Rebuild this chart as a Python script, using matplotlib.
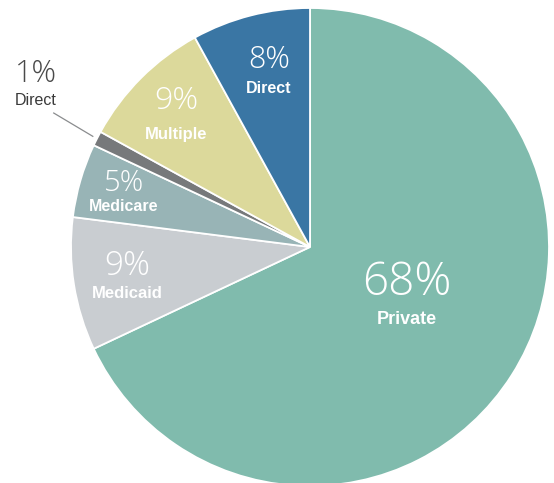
import numpy as np
import matplotlib
matplotlib.use("Agg")
import matplotlib.pyplot as plt

# data (clockwise from 12 o'clock)
labels = ["Private", "Medicaid", "Medicare", "Direct", "Multiple", "Direct"]
shares = [68, 9, 5, 1, 9, 8]
colors = ["#80bbad", "#c9cdd1", "#98b4b6", "#77797b", "#dcd99b", "#3a76a4"]

# label placement (style): radial fraction, angle tweak, half gap between lines (px), font sizes
lab_r = [0.465, 0.776, 0.81, None, 0.778, 0.744]
lab_shift = [3.3, 1.2, 0.5, 0, 0.9, -1.0]
lab_gap = [18.5, 14, 11.5, 0, 16.5, 14.5]
pct_size = [33, 24, 21, 22, 23, 22]
name_size = [13, 12, 11.5, 11.5, 12, 11.5]

W, H = 554, 483
R = 239.0
cx, cy = 310.0, 247.0

fig = plt.figure(figsize=(W / 100, H / 100), dpi=100)
ax = fig.add_axes([0, 0, 1, 1])

wedges, _ = ax.pie(
    shares,
    colors=colors,
    startangle=90,
    counterclock=False,
    radius=1.0,
    wedgeprops=dict(edgecolor="white", linewidth=1.3),
)

ax.set_xlim(-cx / R, (W - cx) / R)
ax.set_ylim(-(H - cy) / R, cy / R)
ax.set_aspect("equal")
ax.axis("off")

pct_font = dict(family=["Open Sans", "Roboto", "DejaVu Sans"], weight="light")
name_font = dict(family=["Liberation Sans", "DejaVu Sans"], weight="bold")

for i, w in enumerate(wedges):
    mid = np.radians((w.theta1 + w.theta2) / 2)
    if lab_r[i] is None:
        # small slice: outside label with a leader line
        p0 = (1.02 * np.cos(mid), 1.02 * np.sin(mid))
        p1 = (1.21 * np.cos(mid - np.radians(0.6)), 1.21 * np.sin(mid - np.radians(0.6)))
        ax.plot([p0[0], p1[0]], [p0[1], p1[1]], color="#8a8c8e", lw=0.9)
        tx = (36 - cx) / R
        ty = (cy - 87) / R
        ax.text(tx, ty + 13 / R, f"{shares[i]}%", ha="center", va="center",
                fontsize=pct_size[i], color="#4a4a4a", **pct_font)
        ax.text(tx, ty - 13 / R, labels[i], ha="center", va="center",
                fontsize=name_size[i], color="#3a3a3a",
                family=["Liberation Sans", "DejaVu Sans"])
        continue
    a = mid + np.radians(lab_shift[i])
    x = lab_r[i] * np.cos(a)
    y = lab_r[i] * np.sin(a)
    d = lab_gap[i] / R
    ax.text(x, y + d, f"{shares[i]}%", ha="center", va="center",
            fontsize=pct_size[i], color="white", **pct_font)
    ax.text(x, y - d, labels[i], ha="center", va="center",
            fontsize=name_size[i], color="white", **name_font)

fig.savefig("out.png", dpi=100)
